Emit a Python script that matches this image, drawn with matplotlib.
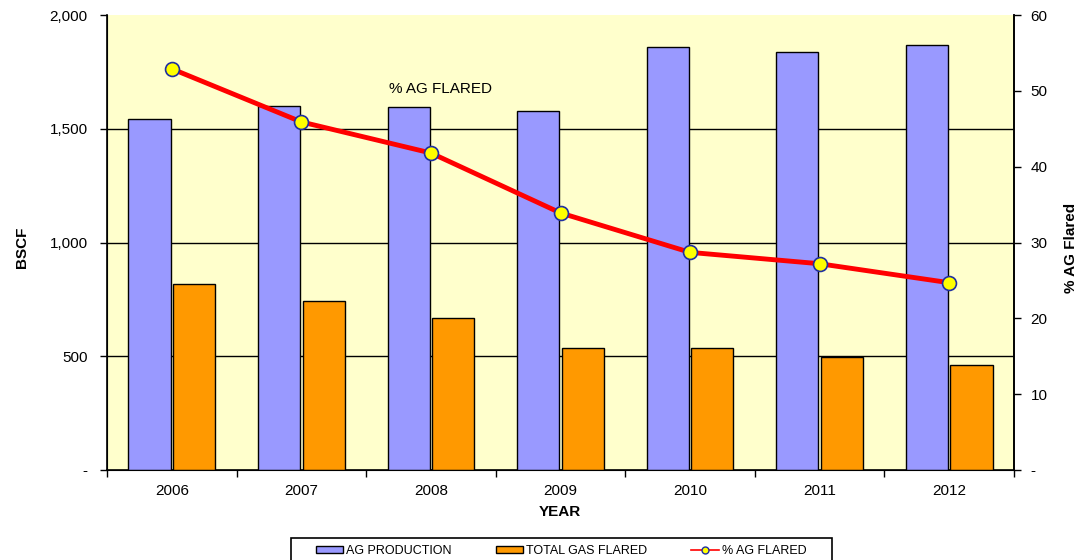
import matplotlib
matplotlib.use("Agg")
import matplotlib.pyplot as plt
import numpy as np
from matplotlib.ticker import FuncFormatter, FixedLocator
from matplotlib.lines import Line2D
from matplotlib.patches import Patch, Rectangle

plt.rcParams['font.family'] = ['Liberation Sans', 'DejaVu Sans']

years = ["2006", "2007", "2008", "2009", "2010", "2011", "2012"]
ag_production = [1543, 1600, 1595, 1578, 1859, 1837, 1868]
total_gas_flared = [818, 743, 668, 536, 536, 497, 462]
pct_ag_flared = [52.9, 45.9, 41.8, 33.9, 28.7, 27.2, 24.7]

W, H = 1078, 560
fig = plt.figure(figsize=(W / 100, H / 100), dpi=100)
ax = fig.add_axes([0.0993, 0.1607, 0.8413, 0.8125])
ax.set_facecolor('#FFFFCC')

x = np.arange(len(years))
w = 0.325
ax.bar(x - 0.172, ag_production, w, color='#9999FF', edgecolor='black', linewidth=1.0, zorder=3)
ax.bar(x + 0.172, total_gas_flared, w, color='#FF9900', edgecolor='black', linewidth=1.0, zorder=3)

ax.set_xlim(-0.5, len(years) - 0.5)
ax.set_ylim(0, 2000)
ax.set_yticks([0, 500, 1000, 1500, 2000])
ax.yaxis.set_major_formatter(FuncFormatter(lambda v, p: '-' if v == 0 else f'{int(v):,}'))
for yv in [500, 1000, 1500]:
    ax.axhline(yv, color='black', linewidth=1.0, zorder=1)

ax.set_xticks(x)
ax.set_xticklabels(years)
ax.tick_params(axis='x', which='major', length=0, pad=10, labelsize=11)
ax.xaxis.set_minor_locator(FixedLocator(np.arange(-0.5, len(years), 1.0)))
ax.tick_params(axis='x', which='minor', length=5, direction='out', width=1)
ax.tick_params(axis='y', length=5, direction='out', labelsize=11, width=1, pad=9)

ax.spines['top'].set_visible(False)
for s in ['left', 'bottom', 'right']:
    ax.spines[s].set_linewidth(1.2)

fig.text(22 / W, 1 - 247 / H, 'BSCF', rotation=90, ha='center', va='center',
         fontweight='bold', fontsize=11)
fig.text(560 / W, 1 - 512 / H, 'YEAR', ha='center', va='center',
         fontweight='bold', fontsize=11)
fig.text(1071 / W, 1 - 248 / H, '% AG Flared', rotation=90, ha='center', va='center',
         fontweight='bold', fontsize=11)

ax2 = ax.twinx()
ax2.set_ylim(0, 60)
ax2.set_yticks([0, 10, 20, 30, 40, 50, 60])
ax2.yaxis.set_major_formatter(FuncFormatter(lambda v, p: '-' if v == 0 else f'{int(v)}'))
ax2.tick_params(axis='y', length=5, direction='out', labelsize=11, width=1, pad=7)
ax2.spines['top'].set_visible(False)
ax2.spines['right'].set_linewidth(1.2)
ax2.plot(x, pct_ag_flared, color='#FF0000', linewidth=3.5, marker='o', markersize=10,
         markerfacecolor='#FFFF00', markeredgecolor='#1F2FA0', markeredgewidth=1.2, zorder=5)

ax.text(2.07, 1675, '% AG FLARED', ha='center', va='center', fontsize=11, zorder=6)

# legend frame drawn manually (extends past the bottom edge as in the reference)
fig.patches.append(Rectangle((291 / W, -10 / H), (832 - 291) / W, (22 + 10) / H,
                             transform=fig.transFigure, facecolor='white',
                             edgecolor='black', linewidth=1.2, zorder=0))
handles = [Patch(facecolor='#9999FF', edgecolor='black'),
           Patch(facecolor='#FF9900', edgecolor='black'),
           Line2D([], [], color='#FF0000', marker='o', markersize=5,
                  markerfacecolor='#FFFF00', markeredgecolor='#1F2FA0', linewidth=1.2)]
leg = fig.legend(handles, ['AG PRODUCTION', 'TOTAL GAS FLARED', '% AG FLARED'],
                 loc='center', bbox_to_anchor=(561 / W, 1 - 551 / H), ncol=3, fontsize=9,
                 frameon=False, handlelength=2.2, handleheight=0.5, handletextpad=0.25,
                 columnspacing=3.5, borderpad=0.0, borderaxespad=0)

fig.savefig('out.png', dpi=100, facecolor='white')
